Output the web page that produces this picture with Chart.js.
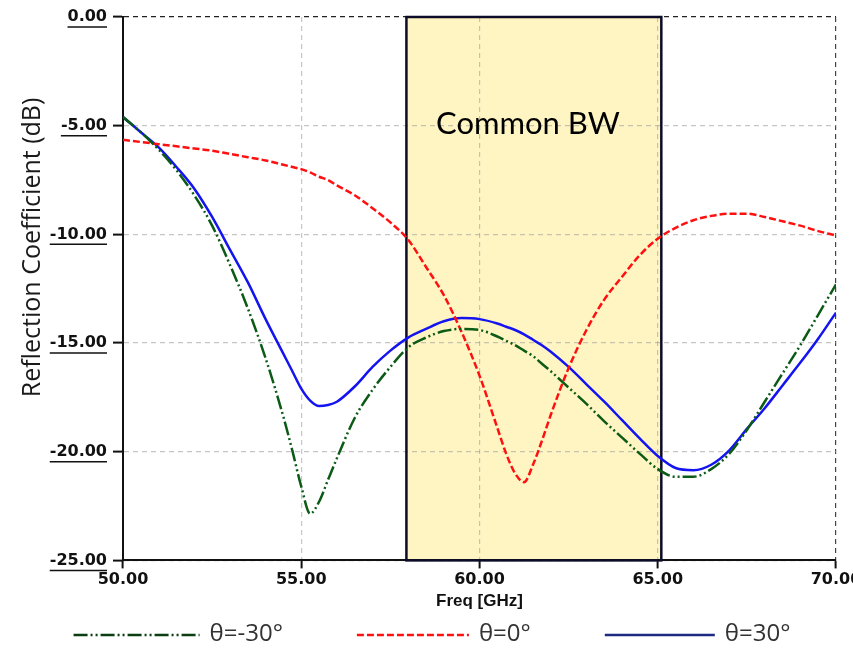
<!DOCTYPE html>
<html>
<head>
<meta charset="utf-8">
<script src="https://cdn.jsdelivr.net/npm/chart.js@4/dist/chart.umd.min.js"></script>
<style>
  html, body { margin: 0; padding: 0; background: #fff; overflow: hidden; }
  #wrap { width: 853px; height: 658px; }
</style>
</head>
<body>
<div id="wrap"><canvas id="s11Chart"></canvas></div>
<script>
// frequency points (GHz) shared by all three curves
const freq = [50, 50.5, 51, 51.5, 52, 52.5, 53, 53.5, 54, 54.5,
  54.75, 55, 55.25, 55.5, 55.75,
  56, 56.5, 57, 57.5, 58, 58.5, 59, 59.5, 60, 60.5,
  60.75, 61, 61.25, 61.5, 61.75,
  62, 62.5, 63, 63.5, 64, 64.5, 65, 65.5, 66, 66.5, 67, 67.5, 68, 68.5, 69, 69.5, 70];

const thetaM30 = [-4.6, -5.3, -6.1, -7.05, -8.2, -9.6, -11.4, -13.4, -15.7, -18.4,
  -19.95, -21.6, -22.85, -22.3, -21.3,
  -20.3, -18.45, -17.15, -16.1, -15.2, -14.75, -14.45, -14.35, -14.4, -14.7,
  -14.9, -15.1, -15.35, -15.6, -15.95,
  -16.3, -17.05, -17.8, -18.6, -19.35, -20.1, -20.8, -21.15, -21.15, -20.8, -20.1, -19.0, -17.7, -16.4, -15.1, -13.7, -12.3];

const theta0 = [-5.65, -5.75, -5.85, -5.95, -6.05, -6.15, -6.3, -6.45, -6.6, -6.8,
  -6.9, -7.0, -7.15, -7.35, -7.5,
  -7.75, -8.2, -8.8, -9.45, -10.25, -11.5, -12.8, -14.5, -16.5, -18.9,
  -20.1, -21.0, -21.4, -20.6, -19.5,
  -18.3, -16.15, -14.4, -13.0, -11.95, -10.95, -10.2, -9.7, -9.35, -9.15, -9.05, -9.05, -9.2, -9.4, -9.6, -9.85, -10.05];

const theta30 = [-4.6, -5.3, -6.0, -6.9, -7.9, -9.2, -10.7, -12.2, -13.9, -15.5,
  -16.3, -17.1, -17.65, -17.9, -17.85,
  -17.7, -17.0, -16.1, -15.35, -14.75, -14.35, -14.0, -13.85, -13.9, -14.1,
  -14.25, -14.4, -14.6, -14.85, -15.1,
  -15.4, -16.1, -16.9, -17.7, -18.55, -19.4, -20.2, -20.75, -20.85, -20.6, -19.95, -18.95, -18.0, -16.95, -15.9, -14.8, -13.6];

const seriesNames = ['\u03b8=-30\u00b0', '\u03b8=0\u00b0', '\u03b8=30\u00b0'];
const yTitle = 'Reflection Coefficient (dB)';

// shaded common bandwidth (GHz)
const bwStart = 57.95;
const bwEnd = 65.1;
const bwLabel = 'Common BW';

const toPts = arr => arr.map((v, i) => ({ x: freq[i], y: v }));

const commonBw = {
  id: 'commonBw',
  beforeDraw(chart) {
    const { ctx, chartArea, scales: { x } } = chart;
    const x1 = x.getPixelForValue(bwStart), x2 = x.getPixelForValue(bwEnd);
    ctx.save();
    ctx.fillStyle = '#fff5c2';
    ctx.fillRect(x1, chartArea.top, x2 - x1, chartArea.bottom - chartArea.top);
    ctx.restore();
  },
  beforeDatasetsDraw(chart) {
    const { ctx, chartArea, scales: { x, y } } = chart;
    const x1 = x.getPixelForValue(bwStart), x2 = x.getPixelForValue(bwEnd);
    ctx.save();
    ctx.strokeStyle = '#0c0c28';
    ctx.lineWidth = 2.5;
    ctx.strokeRect(x1, chartArea.top, x2 - x1, chartArea.bottom - chartArea.top);
    ctx.fillStyle = '#000';
    ctx.font = '31px Lato';
    ctx.textAlign = 'center';
    ctx.textBaseline = 'middle';
    ctx.fillText(bwLabel, (x1 + x2) / 2 - 6, y.getPixelForValue(-4.9));
    ctx.restore();
  }
};

// underlined y tick labels and the y title (sits above the axis centre in the original)
const axisExtras = {
  id: 'axisExtras',
  afterDraw(chart) {
    const { ctx, scales: { y } } = chart;
    const opts = y.options;
    ctx.save();
    ctx.font = 'bold 16px "DejaVu Sans"';
    ctx.strokeStyle = '#111';
    ctx.lineWidth = 1.5;
    y.ticks.forEach((t, i) => {
      const py = y.getPixelForTick(i);
      const right = y.right - opts.grid.tickLength - opts.ticks.padding;
      const w = ctx.measureText(t.label).width;
      ctx.beginPath();
      ctx.moveTo(right - w, py + 10);
      ctx.lineTo(right, py + 10);
      ctx.stroke();
    });
    ctx.translate(33, y.getPixelForValue(-10.6));
    ctx.rotate(-Math.PI / 2);
    ctx.font = '500 25px "Open Sans"';
    ctx.fillStyle = '#1a1a1a';
    ctx.textAlign = 'center';
    ctx.textBaseline = 'middle';
    ctx.fillText(yTitle, 0, 0);
    ctx.restore();
  }
};

// legend drawn with the dataset dash patterns and wide spacing
const wideLegend = {
  id: 'wideLegend',
  afterDraw(chart) {
    const { ctx } = chart;
    const lineLen = [126, 112, 110], textGap = 10, itemGap = 74, cy = 635;
    ctx.save();
    ctx.font = '24px "Open Sans"';
    ctx.textBaseline = 'middle';
    const sets = chart.data.datasets;
    const widths = sets.map((d, i) => lineLen[i] + textGap + ctx.measureText(d.label).width);
    const total = widths.reduce((a, b) => a + b, 0) + itemGap * (sets.length - 1);
    let x = 432 - total / 2;
    sets.forEach((d, i) => {
      ctx.strokeStyle = d.legendColor || d.borderColor;
      ctx.lineWidth = 2.5;
      ctx.setLineDash(d.borderDash || []);
      ctx.beginPath();
      ctx.moveTo(x, cy);
      ctx.lineTo(x + lineLen[i], cy);
      ctx.stroke();
      ctx.fillStyle = '#333';
      ctx.fillText(d.label, x + lineLen[i] + textGap, cy - 1);
      x += widths[i] + itemGap;
    });
    ctx.restore();
  }
};

new Chart(document.getElementById('s11Chart'), {
  type: 'line',
  data: {
    datasets: [{
      label: seriesNames[0],
      data: toPts(thetaM30),
      borderColor: '#0b5a16',
      legendColor: '#0b3f12',
      borderWidth: 2.5,
      borderDash: [14, 3, 2, 3, 2, 3]
    }, {
      label: seriesNames[1],
      data: toPts(theta0),
      borderColor: '#ff1010',
      borderWidth: 2.5,
      borderDash: [7, 3]
    }, {
      label: seriesNames[2],
      data: toPts(theta30),
      borderColor: '#1414f0',
      legendColor: '#1c2a80',
      borderWidth: 2.5
    }]
  },
  options: {
    responsive: true,
    maintainAspectRatio: false,
    animation: false,
    events: [],
    elements: { point: { radius: 0 }, line: { cubicInterpolationMode: 'monotone' } },
    layout: { padding: { top: 17, left: 5, right: 17, bottom: 42 } },
    scales: {
      x: {
        type: 'linear',
        min: 50, max: 70,
        afterFit: s => { s.paddingRight = 0; },
        ticks: {
          stepSize: 5,
          callback: v => v.toFixed(2),
          color: '#111',
          font: { family: 'DejaVu Sans', weight: 'bold', size: 16 },
          padding: 2,
          maxRotation: 0
        },
        grid: {
          color: c => (c.tick && c.tick.value === 70) ? '#444' : 'rgba(160,160,160,0.6)',
          lineWidth: 1.2,
          tickColor: '#111',
          tickLength: 8,
          tickWidth: 2
        },
        border: { display: true, color: '#111', width: 2, dash: [5, 4] },
        title: {
          display: true,
          text: 'Freq [GHz]',
          color: '#111',
          font: { family: 'Liberation Sans', weight: 'bold', size: 17 },
          padding: { top: 0, bottom: 4 }
        }
      },
      y: {
        min: -25, max: 0,
        afterFit: s => { s.width = 118; s.paddingTop = 0; s.paddingBottom = 0; },
        ticks: {
          stepSize: 5,
          callback: v => v.toFixed(2),
          color: '#111',
          font: { family: 'DejaVu Sans', weight: 'bold', size: 16 },
          padding: 6
        },
        grid: {
          color: c => (c.tick && c.tick.value === 0) ? '#222' : 'rgba(160,160,160,0.6)',
          lineWidth: 1.2,
          tickColor: '#111',
          tickLength: 10,
          tickWidth: 2
        },
        border: { display: true, color: '#111', width: 2, dash: [5, 4] }
      }
    },
    plugins: {
      tooltip: { enabled: false },
      legend: { display: false }
    }
  },
  plugins: [commonBw, axisExtras, wideLegend]
});
</script>
</body>
</html>
